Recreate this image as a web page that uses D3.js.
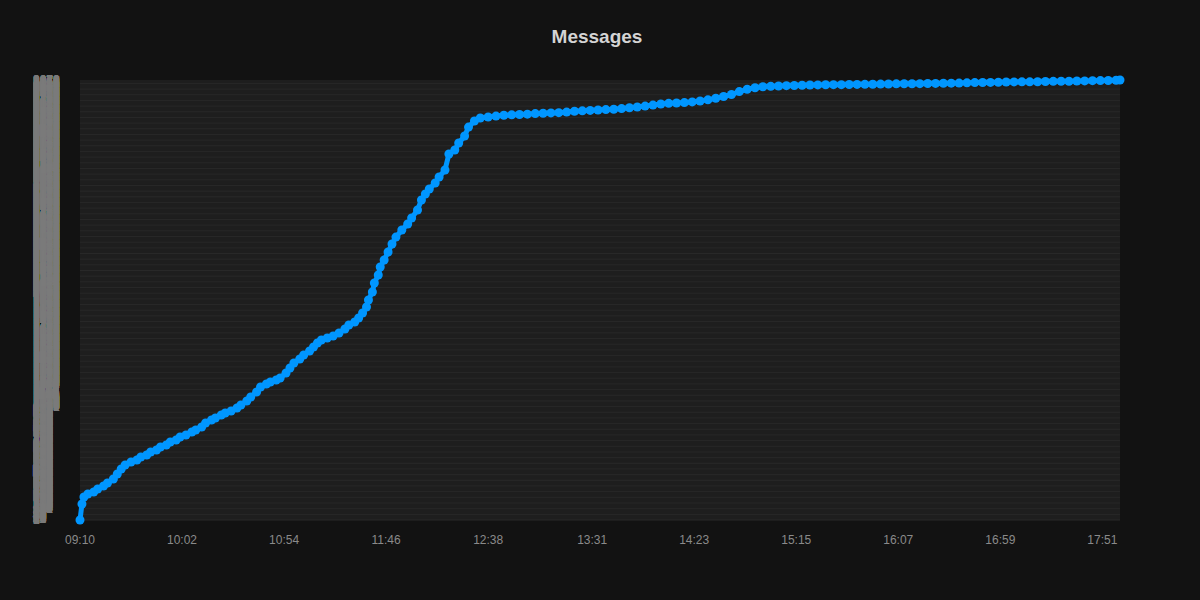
<!DOCTYPE html>
<html>
<head>
<meta charset="utf-8">
<script src="https://cdn.jsdelivr.net/npm/d3@7"></script>
<style>
  body { margin: 0; background: #121212; }
  svg { display: block; }
</style>
</head>
<body>
<svg width="1200" height="600"></svg>
<script>
// message times (HH:MM) and running total of messages at that time
var times = [
  "09:10","09:11","09:12","09:14","09:17","09:19","09:22","09:24","09:27","09:29",
  "09:31","09:33","09:36","09:39","09:41","09:44","09:46","09:49","09:51","09:54",
  "09:56","09:59","10:01","10:04","10:07","10:09","10:12","10:14","10:17","10:19",
  "10:22","10:24","10:27","10:30","10:32","10:35","10:37","10:40","10:42","10:45",
  "10:47","10:50","10:52","10:55","10:57","10:59","11:02","11:04","11:07","11:09",
  "11:11","11:13","11:16","11:19","11:22","11:25","11:27","11:30","11:32","11:34",
  "11:36","11:37","11:39","11:40","11:42","11:43","11:45","11:47","11:49","11:51",
  "11:54","11:57","11:59","12:02","12:04","12:06","12:08","12:11","12:13","12:16",
  "12:18","12:21","12:23","12:26","12:28","12:31",
  "12:34","12:38","12:42","12:46","12:50","12:54","12:58","13:02","13:06","13:10",
  "13:14","13:18","13:22","13:26","13:30","13:34","13:38","13:42","13:46","13:50",
  "13:54","13:58","14:02","14:06","14:10","14:14","14:18","14:22","14:26","14:30",
  "14:34","14:38","14:42","14:46","14:50","14:54","14:58","15:02","15:06","15:10",
  "15:14","15:18","15:22","15:26","15:30","15:34","15:38","15:42","15:46","15:50",
  "15:54","15:58","16:02","16:06","16:10","16:14","16:18","16:22","16:26","16:30",
  "16:34","16:38","16:42","16:46","16:50","16:54","16:58","17:02","17:06","17:10",
  "17:14","17:18","17:22","17:26","17:30","17:34","17:38","17:42","17:46","17:50",
  "17:54","17:58","18:00"
];
var counts = [
  0,141,203,229,247,273,300,326,362,406,
  450,485,511,529,556,573,600,617,644,661,
  688,705,732,750,776,794,820,855,882,899,
  926,944,961,988,1014,1049,1085,1129,1173,1199,
  1217,1235,1252,1296,1340,1384,1420,1455,1490,1526,
  1561,1587,1605,1623,1649,1684,1720,1746,1781,1825,
  1878,1940,2011,2090,2160,2231,2293,2363,2434,2495,
  2557,2610,2663,2734,2822,2875,2919,2972,3025,3086,
  3227,3263,3324,3386,3465,3518,
  3545,3554,3562,3569,3573,3576,3579,3584,3587,3590,
  3592,3597,3604,3608,3612,3615,3619,3622,3628,3635,
  3642,3650,3659,3668,3674,3677,3681,3687,3695,3705,
  3719,3735,3752,3778,3798,3812,3820,3824,3827,3830,
  3832,3834,3836,3837,3838,3839,3839,3840,3841,3842,
  3843,3844,3845,3846,3847,3847,3848,3849,3850,3851,
  3852,3853,3855,3857,3858,3859,3860,3862,3863,3864,
  3864,3865,3867,3868,3869,3869,3871,3872,3874,3875,
  3876,3878,3880
];
var xTickLabels = ["09:10","10:02","10:54","11:46","12:38","13:31","14:23","15:15","16:07","16:59","17:51"];
var title = "Messages";

var svg = d3.select("svg"),
    width = +svg.attr("width"),
    height = +svg.attr("height");

var margin = {top: 80, right: 80, bottom: 80, left: 80};
var parse = d3.timeParse("%H:%M");

var data = times.map(function(t, i) { return {t: parse(t), n: counts[i]}; });

var x = d3.scaleTime()
    .domain([parse("09:10"), parse("18:00")])
    .range([margin.left, width - margin.right]);

var y = d3.scaleLinear()
    .domain(d3.extent(counts))
    .range([height - margin.bottom, margin.top]);

// plot background
svg.append("rect")
    .attr("x", margin.left)
    .attr("y", margin.top)
    .attr("width", width - margin.left - margin.right)
    .attr("height", height - margin.top - margin.bottom)
    .attr("fill", "#1e1e1e");

// faint grid
svg.append("g")
    .attr("class", "grid")
  .selectAll("line")
  .data(y.ticks(100))
  .enter().append("line")
    .attr("x1", margin.left)
    .attr("x2", width - margin.right)
    .attr("y1", function(d) { return y(d); })
    .attr("y2", function(d) { return y(d); })
    .attr("stroke", "#282828")
    .attr("stroke-width", 1);

// y labels: one for every count, they pile up into grey columns
var yLabels = d3.range(y.domain()[0], y.domain()[1] + 1);
svg.append("g")
    .attr("class", "ylabels")
    .style("font-family", "'Liberation Sans', Arial, sans-serif")
    .style("font-size", "12px")
    .attr("fill", "#7a7a7a")
  .selectAll("text")
  .data(yLabels)
  .enter().append("text")
    .attr("x", 33)
    .attr("y", function(d) { return y(d); })
    .attr("dy", "0.35em")
    .text(function(d) { return d; });

// x axis labels
svg.append("g")
    .attr("class", "xlabels")
  .selectAll("text")
  .data(xTickLabels)
  .enter().append("text")
    .attr("x", function(d) { return x(parse(d)); })
    .attr("y", 544)
    .attr("text-anchor", "middle")
    .style("font-family", "'Liberation Sans', Arial, sans-serif")
    .style("font-size", "12px")
    .attr("fill", "#8a8a8a")
    .text(function(d) { return d; });

// line + points
var line = d3.line()
    .x(function(d) { return x(d.t); })
    .y(function(d) { return y(d.n); });

svg.append("path")
    .datum(data)
    .attr("fill", "none")
    .attr("stroke", "#0096ff")
    .attr("stroke-width", 5)
    .attr("stroke-linejoin", "round")
    .attr("d", line);

svg.append("g")
    .attr("class", "points")
  .selectAll("circle")
  .data(data)
  .enter().append("circle")
    .attr("cx", function(d) { return x(d.t); })
    .attr("cy", function(d) { return y(d.n); })
    .attr("r", 4.5)
    .attr("fill", "#0096ff");

// title
svg.append("text")
    .attr("x", 597)
    .attr("y", 43)
    .attr("text-anchor", "middle")
    .style("font-family", "'Liberation Sans', Arial, sans-serif")
    .style("font-size", "19px")
    .style("font-weight", "bold")
    .attr("fill", "#d4d4d4")
    .text(title);
</script>
</body>
</html>
